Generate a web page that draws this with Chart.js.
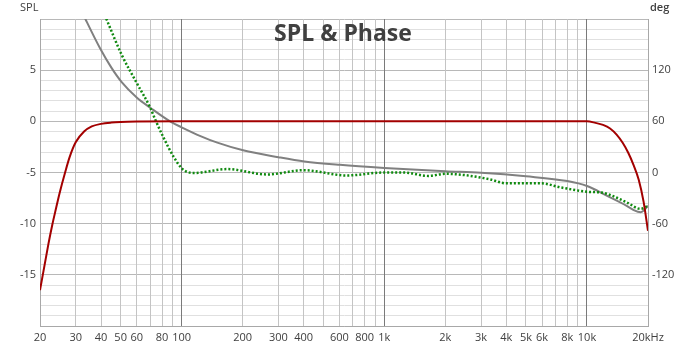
<!DOCTYPE html>
<html>
<head>
<meta charset="utf-8">
<title>SPL & Phase</title>
<script src="https://cdn.jsdelivr.net/npm/chart.js@4.4.1/dist/chart.umd.min.js"></script>
<style>
    body { margin: 0; background: #fff; }
    #wrap { width: 700px; height: 350px; position: relative; }
</style>
</head>
<body>
<div id="wrap"><canvas id="spl"></canvas></div>
<script>
// SPL curve (dB, left axis)
let splFreq = [20, 21, 22, 23, 24, 25, 26.6, 28, 30, 33, 36, 40, 45, 50, 60, 100, 1000,
    10000, 11000, 12000, 13000, 14000, 15000, 16000, 17000, 18000, 19000, 20000];
let splVals = [-16.5, -14.2, -12.0, -10.1, -8.5, -7.0, -5.0, -3.5, -2.05, -1.0, -0.5, -0.25, -0.12, -0.06, -0.02, 0, 0,
    0, -0.15, -0.35, -0.7, -1.3, -2.1, -3.1, -4.3, -5.7, -7.8, -10.7];

// grey curve (deg, right axis)
let greyFreq = [32, 33.5, 39.5, 45, 50.6, 60, 70, 89, 100, 123, 150, 201, 300, 403, 604, 1000,
    2000, 3000, 5000, 8000, 10000, 12500, 15700, 17000, 18400, 19200, 20000];
let greyVals = [190, 180, 146, 123, 106, 88, 76, 59, 53, 43, 35, 26, 18, 13, 9, 5.4,
    1.5, -0.4, -4.5, -10, -15.8, -27, -39, -44, -46.5, -44, -39];

// phase curve (deg, right axis, dotted)
let phaseFreq = [41, 42.7, 50.6, 60, 69.8, 74.4, 81, 91, 100, 107, 116, 167, 265, 400, 650, 1000, 1250,
    1650, 2000, 2500, 3330, 4000, 5900, 7500, 10200, 11800, 13300, 15700, 18400, 20000];
let phaseVals = [189, 179, 138, 105, 76.5, 61, 42, 19, 5, 0.5, -0.5, 4, -2.3, 2.7, -3.5, 0, 0,
    -4, -1.5, -3.1, -8.1, -12.7, -12.7, -17.7, -22.7, -23.5, -27.3, -35, -42.7, -39];

// x axis labels
let xLabelVals = [20, 30, 40, 50, 60, 80, 100, 200, 300, 400, 600, 800, 1000,
    2000, 3000, 4000, 5000, 6000, 8000, 10000, 20000];
let xLabelText = ['20', '30', '40', '50', '60', '80', '100', '200', '300', '400', '600', '800', '1k',
    '2k', '3k', '4k', '5k', '6k', '8k', '10k', '20kHz'];
let splLabels = [5, 0, -5, -10, -15];
let degLabels = [120, 60, 0, -60, -120];

function points(fr, vals) {
    let out = [];
    for (i = 0; i < fr.length; i++) {
        out.push({ x: fr[i], y: vals[i] });
    }
    return out;
}

// grid lines: 20..90, 100..900, 1k..9k, 10k, 20k
let xGrid = [];
for (let d = 10; d <= 10000; d *= 10) {
    for (let m = 1; m <= 9; m++) {
        let v = d * m;
        if (v >= 20 && v <= 20000 && !(d == 10000 && m > 2)) xGrid.push(v);
    }
}

let tickFont = { family: 'Open Sans', size: 11 };
let tickColor = '#404040';

let textPlugin = {
    id: 'texts',
    afterDraw(chart) {
        let ctx = chart.ctx;
        ctx.save();
        ctx.fillStyle = '#404040';
        ctx.font = 'bold 23px "Open Sans"';
        ctx.textAlign = 'center';
        ctx.textBaseline = 'middle';
        ctx.fillText('SPL & Phase', 343, 34);
        ctx.font = '11px "Open Sans"';
        ctx.textAlign = 'left';
        ctx.fillText('SPL', 20, 8);
        ctx.font = '600 11px "Open Sans"';
        ctx.fillText('deg', 650, 8);
        ctx.restore();
    }
};

let ctx = document.getElementById('spl').getContext('2d');
let splChart = new Chart(ctx, {
    type: 'line',
    data: {
        datasets: [{
            label: 'SPL',
            data: points(splFreq, splVals),
            yAxisID: 'y',
            borderColor: '#a30000',
            borderWidth: 2,
            order: 0
        }, {
            label: 'Phase',
            data: points(phaseFreq, phaseVals),
            yAxisID: 'y2',
            borderColor: '#108a10',
            borderWidth: 2.5,
            borderDash: [2, 2],
            borderCapStyle: 'butt',
            order: 1
        }, {
            label: 'Grey',
            data: points(greyFreq, greyVals),
            yAxisID: 'y2',
            borderColor: '#808080',
            borderWidth: 2,
            order: 2
        }]
    },
    options: {
        responsive: true,
        maintainAspectRatio: false,
        animation: false,
        layout: { padding: { top: 19 } },
        elements: {
            point: { radius: 0 },
            line: { cubicInterpolationMode: 'monotone', fill: false }
        },
        plugins: {
            legend: { display: false },
            tooltip: { enabled: false },
            title: { display: false }
        },
        scales: {
            y: {
                position: 'left',
                min: -20,
                max: 10,
                afterFit: function (scale) { scale.width = 40; },
                ticks: {
                    stepSize: 1,
                    autoSkip: false,
                    padding: 4,
                    color: tickColor,
                    font: tickFont,
                    callback: function (v) {
                        return splLabels.indexOf(v) >= 0 ? String(v) : '';
                    }
                },
                grid: {
                    drawTicks: false,
                    color: function (c) {
                        return c.tick.value % 5 == 0 ? '#b8b8b8' : '#e0e0e0';
                    }
                },
                border: { color: '#a8a8a8' }
            },
            y2: {
                position: 'right',
                min: -180,
                max: 180,
                afterFit: function (scale) { scale.width = 52; },
                ticks: {
                    stepSize: 60,
                    autoSkip: false,
                    padding: 4,
                    color: tickColor,
                    font: tickFont,
                    callback: function (v) {
                        return degLabels.indexOf(v) >= 0 ? String(v) : '';
                    }
                },
                grid: { display: false, drawTicks: false },
                border: { color: '#a8a8a8' }
            },
            x: {
                type: 'logarithmic',
                min: 20,
                max: 20000,
                afterBuildTicks: function (scale) {
                    scale.ticks = xGrid.map(function (v) { return { value: v }; });
                },
                afterFit: function (scale) { scale.height = 24; },
                ticks: {
                    autoSkip: false,
                    maxRotation: 0,
                    padding: 5,
                    color: tickColor,
                    font: tickFont,
                    callback: function (v) {
                        let k = xLabelVals.indexOf(v);
                        return k >= 0 ? xLabelText[k] : '';
                    }
                },
                grid: {
                    drawTicks: false,
                    color: function (c) {
                        let v = c.tick.value;
                        if (v == 100 || v == 1000 || v == 10000) return '#7a7a7a';
                        return '#c4c4c4';
                    }
                },
                border: { color: '#a8a8a8' }
            }
        }
    },
    plugins: [textPlugin]
});
</script>
</body>
</html>
